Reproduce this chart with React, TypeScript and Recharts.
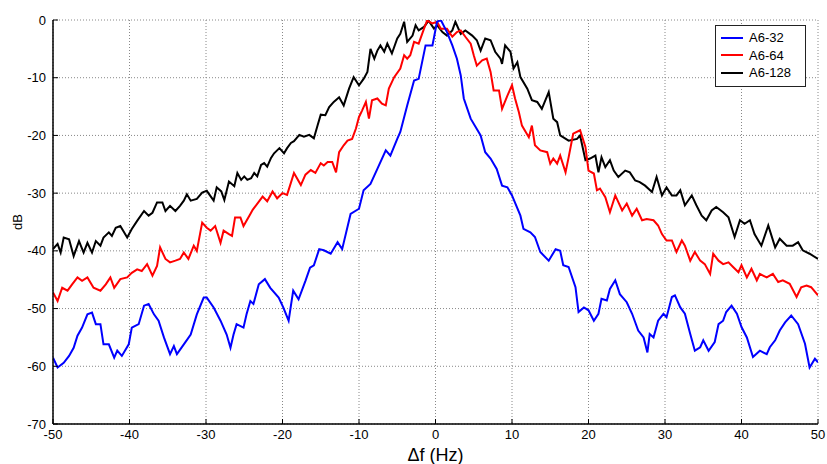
import React from 'react';
import { LineChart, Line, XAxis, YAxis, CartesianGrid, Legend } from 'recharts';

const xTicks = [-50, -40, -30, -20, -10, 0, 10, 20, 30, 40, 50];
const yTicks = [-70, -60, -50, -40, -30, -20, -10, 0];

const blueFreq = [-50, -49.4, -48.6, -47.9, -47.3, -46.8, -46.2, -45.5, -44.9, -44.4, -43.8, -43.4, -42.7, -42.0, -41.6, -41.0, -40.1, -39.7, -38.8, -38.1, -37.5, -36.8, -36.2, -35.5, -34.7, -34.2, -33.8, -32.9, -32.0, -31.2, -30.3, -29.9, -29.0, -28.1, -27.3, -26.8, -26.4, -26.0, -25.1, -24.7, -24.2, -23.8, -23.1, -22.3, -21.6, -20.5, -19.9, -19.2, -18.6, -17.9, -17.0, -16.4, -15.9, -15.2, -14.6, -13.7, -12.8, -12.2, -11.1, -10.0, -9.4, -8.5, -7.6, -6.5, -5.9, -5.0, -4.6, -3.7, -2.8, -2.2, -1.3, -0.4, 0.2, 0.7, 1.5, 2.2, 2.8, 3.3, 3.7, 4.6, 5.9, 6.5, 7.2, 8.0, 8.7, 9.4, 10.0, 11.1, 11.5, 12.4, 13.0, 13.7, 14.8, 15.7, 16.3, 16.7, 17.4, 18.3, 18.7, 19.4, 20.0, 20.7, 21.3, 21.7, 22.4, 22.8, 23.5, 24.1, 25.0, 25.7, 26.5, 27.2, 27.7, 28.0, 28.5, 29.1, 29.8, 30.2, 30.9, 31.3, 32.0, 32.6, 33.3, 33.9, 34.6, 35.0, 35.7, 36.5, 37.0, 37.6, 38.0, 38.7, 39.4, 40.0, 40.7, 41.5, 42.4, 43.3, 43.7, 44.4, 45.0, 45.7, 46.5, 47.4, 48.3, 48.9, 49.6, 50];
const blueDb = [-58.5, -60.2, -59.4, -58.2, -56.8, -54.7, -53.3, -51.0, -50.7, -52.7, -52.7, -56.2, -56.2, -58.5, -57.3, -58.2, -56.2, -53.3, -52.7, -49.5, -49.2, -51.0, -52.1, -55.0, -57.9, -56.5, -57.9, -56.2, -54.5, -51.0, -48.1, -48.1, -49.8, -52.1, -54.5, -56.8, -54.5, -52.7, -53.3, -51.0, -48.7, -49.2, -45.8, -44.9, -46.4, -48.1, -49.8, -52.1, -46.9, -48.4, -45.2, -42.9, -42.5, -39.7, -39.9, -40.5, -38.5, -39.7, -33.6, -32.7, -29.5, -28.4, -25.8, -22.6, -23.5, -20.6, -19.4, -14.8, -10.5, -10.2, -4.4, -4.4, -0.3, 0, -2.1, -4.4, -6.7, -9.6, -13.6, -17.1, -20.0, -22.9, -24.0, -25.8, -28.7, -29.0, -30.4, -33.9, -36.2, -36.8, -37.6, -40.2, -41.7, -39.7, -40.0, -42.5, -42.8, -46.3, -50.6, -49.8, -50.3, -52.1, -50.9, -48.3, -48.6, -46.6, -45.1, -47.5, -48.9, -50.9, -53.8, -55.0, -57.6, -54.4, -55.0, -52.1, -50.9, -51.5, -48.0, -47.7, -49.8, -50.9, -54.4, -57.3, -56.7, -55.5, -57.3, -55.8, -52.7, -52.1, -50.6, -49.5, -50.9, -53.2, -55.0, -58.4, -57.3, -57.9, -56.7, -55.5, -53.8, -52.4, -51.2, -52.7, -56.1, -60.2, -58.7, -59.3];

const redFreq = [-50, -49.4, -48.8, -48.1, -47.5, -46.8, -46.2, -45.5, -44.7, -43.8, -43.1, -42.5, -42.0, -41.2, -40.3, -39.7, -39.0, -38.4, -37.7, -37.0, -36.4, -36.0, -35.3, -34.7, -34.0, -33.4, -32.9, -32.3, -31.6, -31.2, -30.5, -29.9, -29.4, -28.8, -28.1, -27.7, -27.0, -26.6, -26.2, -25.5, -25.1, -24.2, -23.9, -22.6, -22.0, -21.3, -20.7, -20.0, -19.4, -18.5, -17.6, -17.0, -16.3, -15.7, -15.0, -14.6, -14.1, -13.5, -13.0, -12.6, -12.0, -11.5, -10.9, -10.4, -10.0, -9.6, -9.1, -8.7, -8.3, -7.6, -7.0, -6.5, -6.1, -5.4, -4.6, -4.1, -3.7, -3.3, -2.8, -2.2, -1.5, -1.1, -0.4, 0.2, 0.7, 1.5, 2.2, 2.8, 3.3, 3.9, 4.6, 5.0, 5.4, 6.1, 6.7, 7.2, 7.6, 8.3, 8.7, 9.4, 10.0, 10.4, 10.9, 11.3, 12.2, 12.6, 13.0, 13.7, 14.6, 15.0, 15.4, 15.9, 16.3, 17.0, 17.4, 18.0, 18.9, 19.6, 20.0, 20.7, 21.1, 21.5, 22.2, 22.8, 23.5, 24.4, 25.0, 25.7, 26.3, 27.0, 27.6, 28.5, 29.1, 29.6, 30.2, 30.9, 31.5, 32.2, 32.6, 33.3, 33.9, 34.6, 35.2, 35.9, 36.3, 37.0, 37.6, 38.3, 38.9, 39.6, 40.0, 40.7, 41.3, 42.0, 42.4, 43.3, 44.1, 44.8, 45.4, 46.3, 47.2, 47.8, 48.5, 49.1, 50];
const redDb = [-47.2, -48.7, -46.4, -46.9, -45.8, -44.6, -45.2, -44.6, -46.4, -46.9, -45.8, -44.6, -46.4, -44.9, -44.6, -43.8, -43.2, -43.5, -42.3, -44.3, -42.6, -39.4, -41.4, -42.0, -41.7, -41.4, -40.3, -41.4, -39.1, -40.0, -35.1, -36.0, -36.5, -35.7, -38.6, -36.5, -37.1, -37.4, -34.2, -34.2, -35.7, -33.6, -32.9, -30.6, -31.4, -29.7, -30.9, -30.0, -30.3, -26.5, -28.6, -26.8, -26.0, -26.5, -24.8, -25.2, -24.6, -24.6, -26.4, -22.9, -21.7, -20.9, -20.6, -18.8, -16.8, -15.7, -14.2, -17.1, -13.9, -13.6, -14.5, -14.8, -11.9, -9.9, -8.4, -6.1, -6.7, -6.1, -3.8, -4.1, -1.5, -0.1, -0.6, -0.3, -1.5, -1.5, -2.9, -2.1, -1.8, -2.9, -4.1, -6.1, -7.9, -7.0, -6.7, -9.0, -12.2, -12.2, -15.4, -13.1, -11.3, -13.6, -16.0, -18.3, -20.3, -18.3, -21.7, -22.6, -22.9, -24.9, -24.0, -24.9, -23.5, -26.4, -23.8, -19.7, -19.1, -22.0, -26.1, -26.6, -29.5, -29.2, -30.7, -33.3, -30.4, -33.0, -31.8, -33.9, -32.7, -34.7, -34.5, -34.7, -35.6, -37.1, -38.2, -38.2, -40.2, -38.2, -39.1, -41.7, -40.2, -41.7, -42.3, -44.0, -40.5, -41.7, -42.3, -42.0, -42.8, -43.7, -42.5, -44.6, -43.1, -45.1, -44.0, -44.6, -44.0, -45.4, -45.1, -45.7, -48.0, -46.3, -46.0, -46.3, -47.7];

const blackFreq = [-50, -49.4, -49.0, -48.6, -47.9, -47.3, -46.6, -46.0, -45.5, -44.9, -44.4, -43.8, -43.4, -42.7, -42.3, -41.8, -41.2, -40.3, -39.7, -39.0, -38.1, -37.5, -37.0, -36.4, -35.7, -35.3, -34.7, -34.0, -33.4, -32.9, -32.5, -32.0, -31.2, -30.5, -29.9, -29.0, -28.6, -28.0, -27.6, -27.0, -26.3, -25.9, -25.4, -25.0, -24.6, -24.1, -23.7, -23.3, -22.8, -22.4, -22.0, -21.5, -21.1, -20.4, -19.8, -19.4, -18.9, -18.5, -17.8, -17.2, -16.5, -15.9, -15.4, -15.0, -14.4, -13.9, -13.3, -12.6, -12.0, -11.3, -10.7, -10.0, -9.4, -8.9, -8.5, -8.0, -7.6, -7.2, -6.7, -6.3, -5.7, -5.0, -4.6, -4.1, -3.7, -3.0, -2.6, -2.2, -1.5, -0.9, -0.2, 0.2, 0.9, 1.5, 2.2, 2.6, 3.3, 3.9, 4.8, 5.4, 5.9, 6.5, 7.2, 7.8, 8.5, 8.7, 9.1, 9.8, 10.2, 10.7, 11.1, 12.0, 12.6, 13.3, 13.9, 14.8, 15.4, 15.9, 16.3, 17.4, 18.5, 18.9, 19.6, 20.2, 20.9, 21.3, 21.7, 22.2, 22.8, 23.3, 23.9, 24.8, 25.4, 26.1, 26.7, 27.4, 28.3, 28.9, 29.6, 30.2, 30.9, 31.5, 32.0, 32.6, 33.5, 34.1, 34.8, 35.4, 36.1, 36.7, 37.6, 38.3, 39.1, 39.8, 40.4, 41.1, 41.7, 42.6, 43.5, 44.4, 45.0, 45.9, 46.7, 47.4, 48.0, 48.9, 50];
const blackDb = [-39.7, -38.8, -40.3, -37.7, -38.0, -40.9, -38.3, -40.3, -38.6, -40.3, -38.3, -39.1, -37.7, -36.8, -37.4, -36.0, -35.7, -37.7, -36.2, -34.8, -33.1, -33.9, -33.4, -31.6, -31.6, -33.1, -32.2, -33.1, -32.2, -31.3, -30.2, -31.3, -31.0, -29.9, -29.6, -31.3, -29.0, -29.7, -31.2, -28.0, -28.8, -26.5, -27.7, -27.1, -27.7, -27.4, -26.5, -27.1, -25.1, -24.8, -25.4, -23.9, -23.1, -22.2, -23.1, -22.2, -21.3, -21.0, -19.9, -20.2, -19.9, -20.5, -18.2, -16.4, -16.5, -15.1, -14.2, -13.4, -14.8, -11.9, -9.9, -11.3, -10.2, -9.0, -5.0, -6.7, -5.3, -4.4, -5.5, -4.1, -5.8, -3.2, -2.4, -0.3, -3.8, -2.7, -0.9, -1.8, -1.2, -0.1, -1.5, -0.9, -2.1, -2.7, -1.8, -0.3, -2.4, -1.8, -2.7, -3.5, -5.3, -3.2, -3.5, -5.5, -6.7, -7.6, -4.4, -5.5, -8.4, -7.3, -9.9, -11.9, -13.9, -14.2, -15.4, -12.5, -17.1, -17.7, -20.0, -20.9, -20.6, -20.0, -24.3, -24.0, -23.5, -26.4, -23.8, -25.5, -24.3, -26.1, -27.2, -26.1, -26.4, -27.8, -28.1, -28.7, -29.8, -27.2, -30.4, -29.0, -30.4, -30.4, -29.5, -32.1, -30.4, -32.1, -33.9, -34.7, -33.0, -32.4, -33.3, -34.2, -37.6, -34.7, -35.3, -34.7, -37.1, -39.1, -35.6, -39.4, -37.9, -39.1, -39.1, -38.5, -39.9, -40.5, -41.4];

const toPoints = (fs: number[], ds: number[]) => fs.map((f, i) => ({ f, db: ds[i] }));

const series = [
  { name: 'A6-32', color: '#0000ff', data: toPoints(blueFreq, blueDb) },
  { name: 'A6-64', color: '#ff0000', data: toPoints(redFreq, redDb) },
  { name: 'A6-128', color: '#000000', data: toPoints(blackFreq, blackDb) },
];

const FONT = '"Liberation Sans", Arial, Helvetica, sans-serif';

const LegendBox = () => (
  <div
    style={{
      width: 89,
      height: 57,
      border: '1px solid #222',
      background: '#fff',
      fontFamily: FONT,
      fontSize: 13,
      color: '#000',
      boxSizing: 'content-box',
      paddingTop: 3,
    }}
  >
    {series.map((s) => (
      <div key={s.name} style={{ display: 'flex', alignItems: 'center', height: 17.5 }}>
        <div style={{ width: 22, height: 2, background: s.color, marginLeft: 5, marginRight: 6 }} />
        <span>{s.name}</span>
      </div>
    ))}
  </div>
);

export default function App() {
  const drawOrder = [series[2], series[1], series[0]];
  return (
    <div style={{ position: 'absolute', left: 0, top: 0, width: 827, height: 464, background: '#fff' }}>
      <LineChart width={827} height={464} margin={{ top: 20, right: 9, bottom: 0, left: 0 }}>
        <CartesianGrid stroke="#888" strokeDasharray="1 2" strokeWidth={1} />
        <XAxis
          dataKey="f"
          type="number"
          domain={[-50, 50]}
          ticks={xTicks}
          allowDataOverflow
          height={40}
          stroke="#000"
          axisLine={{ stroke: '#000', strokeWidth: 1.5 }}
          tickLine={{ stroke: '#000' }}
          tickSize={-5}
          tickMargin={11}
          tick={{ fill: '#000', fontSize: 13, fontFamily: FONT }}
          label={{ value: 'Δf (Hz)', position: 'insideBottom', offset: 3, fontSize: 18, fill: '#000', fontFamily: FONT }}
        />
        <XAxis
          xAxisId="top"
          orientation="top"
          dataKey="f"
          type="number"
          domain={[-50, 50]}
          ticks={xTicks}
          height={0}
          axisLine={{ stroke: '#000', strokeWidth: 1 }}
          tickLine={{ stroke: '#000' }}
          tickSize={-5}
          tick={false}
        />
        <YAxis
          type="number"
          domain={[-70, 0]}
          ticks={yTicks}
          allowDataOverflow
          width={53}
          axisLine={{ stroke: '#000', strokeWidth: 1.5 }}
          tickLine={{ stroke: '#000' }}
          tickSize={-5}
          tickMargin={12}
          tick={{ fill: '#000', fontSize: 13, fontFamily: FONT }}
          label={{
            content: () => (
              <text x={19} y={222} transform="rotate(-90 19 222)" textAnchor="middle" dominantBaseline="middle" fontSize={13} fontFamily={FONT} fill="#000">
                dB
              </text>
            ),
          }}
        />
        <YAxis
          yAxisId="right"
          orientation="right"
          type="number"
          domain={[-70, 0]}
          ticks={yTicks}
          width={0}
          axisLine={{ stroke: '#000', strokeWidth: 1.5 }}
          tickLine={{ stroke: '#000' }}
          tickSize={-5}
          tick={false}
        />
        {drawOrder.map((s) => (
          <Line
            key={s.name}
            data={s.data}
            dataKey="db"
            name={s.name}
            type="linear"
            stroke={s.color}
            strokeWidth={2}
            dot={false}
            activeDot={false}
            isAnimationActive={false}
          />
        ))}
        <Legend
          layout="horizontal"
          align="center"
          verticalAlign="middle"
          content={() => <LegendBox />}
          wrapperStyle={{ left: 715, top: 25, width: 91, height: 61 }}
        />
      </LineChart>
    </div>
  );
}
